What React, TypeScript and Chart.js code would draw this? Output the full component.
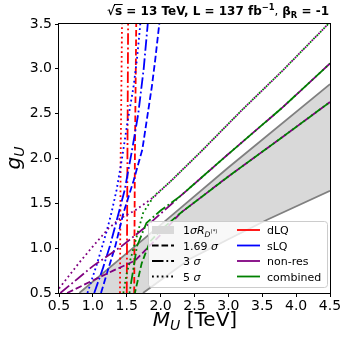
import React, { useEffect, useRef } from 'react';
import { Chart, registerables } from 'chart.js';

Chart.register(...registerables);

const FONT = '"DejaVu Sans", sans-serif';

// tick values
const xTickValues = [0.5, 1.0, 1.5, 2.0, 2.5, 3.0, 3.5, 4.0, 4.5];
const yTickValues = [0.5, 1.0, 1.5, 2.0, 2.5, 3.0, 3.5];

// 1 sigma R_D(*) band edges
const bandUpperM = [0.8, 2.0, 3.0, 4.5];
const bandUpperG = [0.5, 1.26, 1.9, 2.83];
const bandLowerM = [1.74, 2.43, 3.0, 3.58, 4.5];
const bandLowerG = [0.5, 0.88, 1.1, 1.32, 1.64];

// dLQ (red)
const dLQ5M = [1.4, 1.41, 1.43];
const dLQ5G = [0.5, 2.0, 3.5];
const dLQ3M = [1.5, 1.51, 1.52];
const dLQ3G = [0.5, 2.0, 3.5];
const dLQ169M = [1.61, 1.62, 1.64];
const dLQ169G = [0.5, 2.0, 3.5];

// sLQ (blue)
const sLQ5M = [0.92, 1.05, 1.13, 1.2, 1.27, 1.35, 1.43, 1.51, 1.6, 1.65, 1.7];
const sLQ5G = [0.5, 0.8, 1.0, 1.18, 1.38, 1.65, 2.0, 2.4, 2.8, 3.1, 3.5];
const sLQ3M = [1.02, 1.15, 1.25, 1.38, 1.47, 1.58, 1.67, 1.75, 1.81];
const sLQ3G = [0.5, 0.78, 1.02, 1.39, 1.65, 2.1, 2.5, 3.0, 3.5];
const sLQ169M = [1.12, 1.22, 1.33, 1.45, 1.6, 1.73, 1.8, 1.87, 1.92, 1.98];
const sLQ169G = [0.5, 0.75, 1.02, 1.39, 1.75, 2.1, 2.45, 2.8, 3.1, 3.5];

// non-res (purple)
const nr5M = [0.5, 0.8, 1.0, 1.23, 1.4, 1.62, 1.9, 2.14, 2.6, 3.2, 3.8, 4.5];
const nr5G = [0.55, 0.84, 1.02, 1.22, 1.33, 1.42, 1.57, 1.74, 2.08, 2.54, 2.98, 3.52];
const nr3M = [0.52, 1.0, 1.42, 1.8, 2.29, 3.0, 3.8, 4.5];
const nr3G = [0.5, 0.8, 1.02, 1.25, 1.58, 2.05, 2.57, 3.06];
const nr169M = [0.62, 1.0, 1.3, 1.62, 2.0, 2.29, 3.0, 3.8, 4.5];
const nr169G = [0.5, 0.64, 0.75, 0.86, 1.15, 1.39, 1.8, 2.24, 2.63];

// combined (green)
const c5M = [1.45, 1.5, 1.6, 1.74, 1.9, 2.14, 2.6, 3.2, 3.8, 4.5];
const c5G = [0.5, 0.72, 1.0, 1.39, 1.58, 1.74, 2.08, 2.54, 2.98, 3.52];
const c3M = [1.54, 1.6, 1.65, 1.79, 2.0, 2.29, 3.0, 3.8, 4.5];
const c3G = [0.5, 0.78, 1.02, 1.28, 1.42, 1.58, 2.05, 2.57, 3.06];
const c169M = [1.62, 1.72, 1.84, 2.0, 2.29, 3.0, 3.8, 4.5];
const c169G = [0.5, 0.83, 1.07, 1.2, 1.39, 1.8, 2.24, 2.63];

const LW = 1.8;
const DASHED = [6.6, 2.9];
const DASHDOT = [11.5, 2.9, 1.8, 2.9];
const DOTTED = [1.8, 3.0];

const RED = '#ff0000';
const BLUE = '#0000ff';
const PURPLE = '#800080';
const GREEN = '#008000';
const BAND_FILL = '#d9d9d9';
const BAND_EDGE = '#808080';

const pts = (m: number[], g: number[]) => m.map((v, i) => ({ x: v, y: g[i] }));

const line = (m: number[], g: number[], color: string, dash: number[], order: number) => ({
  type: 'line' as const,
  data: pts(m, g),
  borderColor: color,
  borderWidth: LW,
  borderDash: dash,
  borderDashOffset: 0,
  pointRadius: 0,
  fill: false,
  tension: 0,
  order,
});

type Part = { t: string; f: string; dy?: number };
function drawParts(ctx: CanvasRenderingContext2D, parts: Part[], x: number, y: number, align: string) {
  let w = 0;
  for (const p of parts) {
    ctx.font = p.f;
    w += ctx.measureText(p.t).width;
  }
  let cx = align === 'right' ? x - w : align === 'center' ? x - w / 2 : x;
  const pos: number[] = [];
  ctx.textAlign = 'left';
  ctx.textBaseline = 'alphabetic';
  for (const p of parts) {
    ctx.font = p.f;
    pos.push(cx);
    ctx.fillText(p.t, cx, y + (p.dy || 0));
    cx += ctx.measureText(p.t).width;
  }
  pos.push(cx);
  return pos;
}

const overlay = {
  id: 'overlay',
  afterDatasetsDraw(chart: any) {
    const ctx: CanvasRenderingContext2D = chart.ctx;
    const a = chart.chartArea;
    ctx.save();
    ctx.strokeStyle = '#000';
    ctx.lineWidth = 1;
    ctx.setLineDash([]);
    ctx.strokeRect(Math.round(a.left) - 0.5, Math.round(a.top) - 0.5, Math.round(a.right - a.left) + 1, Math.round(a.bottom - a.top) + 1);
    ctx.restore();
  },
  afterDraw(chart: any) {
    const ctx: CanvasRenderingContext2D = chart.ctx;
    ctx.save();
    ctx.fillStyle = '#000';

    // title
    const tb = `bold 12px ${FONT}`;
    const ts = `bold 8.4px ${FONT}`;
    const pos = drawParts(
      ctx,
      [
        { t: '√s = 13 TeV, L = 137 fb', f: tb },
        { t: '−1', f: ts, dy: -5 },
        { t: ', ', f: `12px ${FONT}` },
        { t: 'β', f: tb },
        { t: 'R', f: ts, dy: 3 },
        { t: ' = -1', f: tb },
      ],
      329,
      15,
      'right'
    );
    ctx.font = tb;
    const rw = ctx.measureText('√').width;
    const sw = ctx.measureText('s').width;
    ctx.strokeStyle = '#000';
    ctx.lineWidth = 1;
    ctx.beginPath();
    ctx.moveTo(pos[0] + rw - 1, 4.5);
    ctx.lineTo(pos[0] + rw + sw + 0.5, 4.5);
    ctx.stroke();

    // x axis title
    drawParts(
      ctx,
      [
        { t: 'M', f: `italic 20px ${FONT}` },
        { t: 'U', f: `italic 14px ${FONT}`, dy: 4 },
        { t: ' [TeV]', f: `20px ${FONT}` },
      ],
      195,
      326,
      'center'
    );

    // y axis title
    ctx.save();
    ctx.translate(20, 158);
    ctx.rotate(-Math.PI / 2);
    drawParts(
      ctx,
      [
        { t: 'g', f: `italic 20px ${FONT}` },
        { t: 'U', f: `italic 14px ${FONT}`, dy: 4 },
      ],
      0,
      0,
      'center'
    );
    ctx.restore();

    // legend
    const bx = 148.5, by = 221.5, bw = 179, bh = 66;
    ctx.beginPath();
    (ctx as any).roundRect(bx, by, bw, bh, 3);
    ctx.fillStyle = 'rgba(255,255,255,0.8)';
    ctx.fill();
    ctx.strokeStyle = '#cccccc';
    ctx.lineWidth = 1;
    ctx.stroke();

    const rows = [230, 245.5, 261, 276.5];
    const f11 = `11px ${FONT}`;
    const i11 = `italic 11px ${FONT}`;
    ctx.fillStyle = BAND_FILL;
    ctx.fillRect(152, rows[0] - 4, 22, 8);
    ctx.fillStyle = '#000';
    const c1x = 183;
    drawParts(
      ctx,
      [
        { t: '1', f: f11 },
        { t: 'σ', f: i11 },
        { t: 'R', f: i11 },
        { t: 'D', f: `italic 7.7px ${FONT}`, dy: 2.5 },
        { t: '(*)', f: `5.4px ${FONT}`, dy: -1.5 },
      ],
      c1x,
      rows[0] + 4,
      'left'
    );
    const styles = [DASHED, DASHDOT, DOTTED];
    const labels = ['1.69 ', '3 ', '5 '];
    for (let i = 0; i < 3; i++) {
      const y = rows[i + 1];
      ctx.strokeStyle = '#000';
      ctx.lineWidth = LW;
      ctx.setLineDash(styles[i]);
      ctx.beginPath();
      ctx.moveTo(152, y);
      ctx.lineTo(174, y);
      ctx.stroke();
      ctx.setLineDash([]);
      ctx.fillStyle = '#000';
      drawParts(ctx, [{ t: labels[i], f: f11 }, { t: 'σ', f: i11 }], c1x, y + 4, 'left');
    }
    const cols = [RED, BLUE, PURPLE, GREEN];
    const names = ['dLQ', 'sLQ', 'non-res', 'combined'];
    for (let i = 0; i < 4; i++) {
      const y = rows[i];
      ctx.strokeStyle = cols[i];
      ctx.lineWidth = LW;
      ctx.setLineDash([]);
      ctx.beginPath();
      ctx.moveTo(237, y);
      ctx.lineTo(260, y);
      ctx.stroke();
      ctx.fillStyle = '#000';
      drawParts(ctx, [{ t: names[i], f: f11 }], 267, y + 4, 'left');
    }
    ctx.restore();
  },
};

export default function App() {
  const ref = useRef<HTMLCanvasElement | null>(null);
  useEffect(() => {
    if (!ref.current) return;
    const bandPoly = [
      ...pts(bandUpperM, bandUpperG),
      ...pts(bandLowerM, bandLowerG).reverse(),
    ];
    const chart = new Chart(ref.current, {
      type: 'line',
      data: {
        datasets: [
          {
            data: bandPoly,
            borderWidth: 0,
            borderColor: 'rgba(0,0,0,0)',
            backgroundColor: BAND_FILL,
            fill: 'shape',
            pointRadius: 0,
            order: 100,
          } as any,
          line(bandUpperM, bandUpperG, BAND_EDGE, [], 90),
          line(bandLowerM, bandLowerG, BAND_EDGE, [], 90),
          line(dLQ5M, dLQ5G, RED, DOTTED, 50),
          line(dLQ3M, dLQ3G, RED, DASHDOT, 50),
          line(dLQ169M, dLQ169G, RED, DASHED, 50),
          line(sLQ5M, sLQ5G, BLUE, DOTTED, 40),
          line(sLQ3M, sLQ3G, BLUE, DASHDOT, 40),
          line(sLQ169M, sLQ169G, BLUE, DASHED, 40),
          line(nr5M, nr5G, PURPLE, DOTTED, 30),
          line(nr3M, nr3G, PURPLE, DASHDOT, 30),
          line(nr169M, nr169G, PURPLE, DASHED, 30),
          line(c5M, c5G, GREEN, DOTTED, 10),
          line(c3M, c3G, GREEN, DASHDOT, 10),
          line(c169M, c169G, GREEN, DASHED, 10),
        ],
      },
      options: {
        animation: false,
        responsive: false,
        maintainAspectRatio: false,
        layout: { padding: { top: 24, right: 19, bottom: 0, left: 0 } },
        plugins: {
          legend: { display: false },
          title: { display: false },
          tooltip: { enabled: false },
        },
        scales: {
          x: {
            type: 'linear',
            min: 0.5,
            max: 4.5,
            afterBuildTicks: (s: any) => {
              s.ticks = xTickValues.map((v) => ({ value: v }));
            },
            afterFit: (s: any) => {
              s.height = 51;
            },
            ticks: {
              callback: (v: any) => Number(v).toFixed(1),
              font: { family: FONT, size: 14 },
              color: '#000',
              padding: 1,
              maxRotation: 0,
              autoSkip: false,
            },
            grid: { drawOnChartArea: false, drawTicks: true, tickLength: 4, color: '#000', lineWidth: 1 },
            border: { display: false },
          },
          y: {
            type: 'linear',
            min: 0.5,
            max: 3.5,
            afterBuildTicks: (s: any) => {
              s.ticks = yTickValues.map((v) => ({ value: v }));
            },
            afterFit: (s: any) => {
              s.width = 59;
            },
            ticks: {
              callback: (v: any) => Number(v).toFixed(1),
              font: { family: FONT, size: 14 },
              color: '#000',
              padding: 3,
              autoSkip: false,
            },
            grid: { drawOnChartArea: false, drawTicks: true, tickLength: 4, color: '#000', lineWidth: 1 },
            border: { display: false },
          },
        },
      },
      plugins: [overlay],
    } as any);

    // align dash phases so the overlapping combined / non-res lines interleave
    const sx = chart.scales.x as any;
    const sy = chart.scales.y as any;
    const pathLen = (m: number[], g: number[], upto: number) => {
      let L = 0;
      for (let i = 1; i <= upto; i++) {
        const dx = sx.getPixelForValue(m[i]) - sx.getPixelForValue(m[i - 1]);
        const dy = sy.getPixelForValue(g[i]) - sy.getPixelForValue(g[i - 1]);
        L += Math.hypot(dx, dy);
      }
      return L;
    };
    const period = (d: number[]) => d.reduce((s, v) => s + v, 0);
    const pairs: [number, number[], number[], number, number[], number[], number, number[]][] = [
      [9, nr5M, nr5G, nr5M.indexOf(2.14), c5M, c5G, c5M.indexOf(2.14), DOTTED],
      [10, nr3M, nr3G, nr3M.indexOf(2.29), c3M, c3G, c3M.indexOf(2.29), DASHDOT],
      [11, nr169M, nr169G, nr169M.indexOf(2.29), c169M, c169G, c169M.indexOf(2.29), DASHED],
    ];
    for (const [pi, pm, pg, pj, gm, gg, gj, dash] of pairs) {
      const Lp = pathLen(pm, pg, pj);
      const Lg = pathLen(gm, gg, gj);
      const P = period(dash);
      (chart.data.datasets[pi + 3] as any).borderDashOffset = Lp + P / 2 - Lg;
    }
    chart.update('none');
    return () => chart.destroy();
  }, []);
  return (
    <div style={{ position: 'fixed', left: 0, top: 0, width: 349, height: 344, background: '#fff' }}>
      <canvas ref={ref} width={349} height={344} style={{ display: 'block' }} />
    </div>
  );
}
